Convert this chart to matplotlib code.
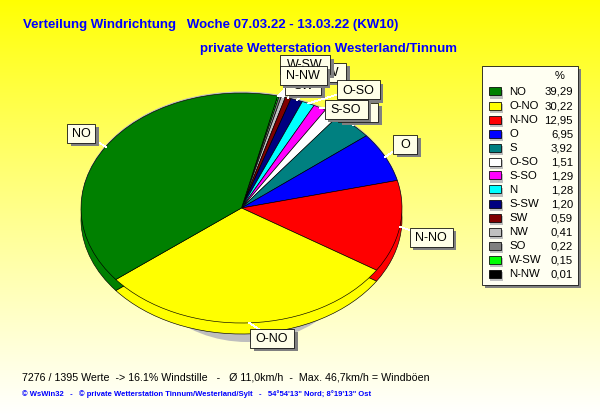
# Verteilung Windrichtung - pie with rim, label boxes and side table

import numpy as np
import matplotlib
matplotlib.use('Agg')
import matplotlib.pyplot as plt
from matplotlib.patches import Rectangle, Ellipse

plt.rcParams['font.family'] = ['Liberation Sans', 'DejaVu Sans']

directions = ['NO', 'O-NO', 'N-NO', 'O', 'S', 'O-SO', 'S-SO', 'N', 'S-SW', 'SW', 'NW', 'SO', 'W-SW', 'N-NW']
percent = [39.29, 30.22, 12.95, 6.95, 3.92, 1.51, 1.29, 1.28, 1.20, 0.59, 0.41, 0.22, 0.15, 0.01]
percent_text = ['39,29', '30,22', '12,95', '6,95', '3,92', '1,51', '1,29', '1,28', '1,20', '0,59', '0,41', '0,22', '0,15', '0,01']
colors = ['#008000', '#FFFF00', '#FF0000', '#0000FF', '#008080', '#FFFFFF', '#FF00FF',
          '#00FFFF', '#000080', '#800000', '#C0C0C0', '#808080', '#00FF00', '#000000']

# label box centre x, centre y, width in pixels
label_boxes = {
    'NO': (81, 133, 28), 'O-NO': (272, 338, 44), 'N-NO': (431, 237, 43), 'O': (405, 144, 24),
    'S': (358, 112, 40), 'O-SO': (358, 90, 43), 'S-SO': (346, 109, 43), 'N': (352, 90, 24),
    'S-SW': (323, 72.5, 46), 'SW': (303, 85.5, 36), 'NW': (303, 78, 30), 'SO': (303, 76, 28),
    'W-SW': (305, 65, 50), 'N-NW': (303, 75.5, 47),
}
draw_order = ['N', 'NW', 'SO', 'SW', 'S-SW', 'NO', 'O-NO', 'N-NO', 'O', 'S', 'O-SO', 'S-SO', 'W-SW', 'N-NW']

W, H = 600, 415
CX, CY, RX, RY = 241.5, 208, 160.5, 115
RIM = 11 / RY

fig = plt.figure(figsize=(W / 100, H / 100), dpi=100)

# background gradient yellow -> pale
bg = fig.add_axes([0, 0, 1, 1], zorder=0)
grad = np.ones((H, 1, 3))
grad[:, 0, 2] = np.clip(np.linspace(0, 1.0, H) ** 0.9, 0, 1)
bg.imshow(grad, aspect='auto', extent=(0, W, H, 0))
bg.axis('off')

# pie, data units are pie radii, axes fills the figure
ax = fig.add_axes([0, 0, 1, 1], zorder=1)
ax.add_patch(Ellipse((5.5 / RX, -19 / RY), 2 * 122 / RX, 2, fc='#BEBEBE', ec='none'))
ax.add_patch(Ellipse((0, 1.5 / RY), 2, 2, fc='#BEBEBE', ec='none'))
wprops = dict(edgecolor='black', linewidth=0.45)
ax.pie(percent[::-1], colors=colors[::-1], startangle=77, counterclock=False,
       center=(0, -RIM), wedgeprops=wprops)
wedges, _ = ax.pie(percent[::-1], colors=colors[::-1], startangle=77, counterclock=False,
                   wedgeprops=wprops)
ax.set_aspect('auto')
ax.set_xlim(-CX / RX, (W - CX) / RX)
ax.set_ylim((CY - H) / RY, CY / RY)
ax.axis('off')

# overlay in pixel coordinates
px = fig.add_axes([0, 0, 1, 1], zorder=2)
px.set_xlim(0, W)
px.set_ylim(H, 0)
px.axis('off')


def shadow_box(x0, y0, w, h, offset, face, z=2):
    px.add_patch(Rectangle((x0 + offset, y0 + offset), w, h, fc='#808080', ec='none', zorder=z))
    px.add_patch(Rectangle((x0, y0), w, h, fc=face, ec='black', lw=0.55, zorder=z))


# connector lines and label boxes
for name, wedge in zip(directions[::-1], wedges):
    bx, by, bw = label_boxes[name]
    mid = np.deg2rad((wedge.theta1 + wedge.theta2) / 2)
    ex, ey = CX + RX * np.cos(mid), CY - RY * np.sin(mid)
    px.plot([ex, bx], [ey, by], color='white', lw=0.6, antialiased=False, zorder=1)

for i, name in enumerate(draw_order):
    bx, by, bw = label_boxes[name]
    shadow_box(bx - bw / 2, by - 9.5, bw, 19, 3.5, '#FFFFE8', z=2 + i)
    px.text(bx, by + 0.5, name, ha='center', va='center', fontsize=9, color='black', zorder=2 + i)

# titles
px.text(23, 25, 'Verteilung Windrichtung   Woche 07.03.22 - 13.03.22 (KW10)', color='#0000FF',
        fontsize=9.5, fontweight='bold', va='center')
px.text(200, 49, 'private Wetterstation Westerland/Tinnum', color='#0000FF',
        fontsize=9.5, fontweight='bold', va='center')

# table at the right
shadow_box(481.5, 66.5, 96, 218, 3, '#FFFFF2', z=2)
px.text(560, 76, '%', ha='center', va='center', fontsize=8, zorder=3)
for i, name in enumerate(directions):
    y = 92 + 14 * i
    px.add_patch(Rectangle((490, y - 2), 13, 9, fc='#BEBEBE', ec='none', zorder=3))
    px.add_patch(Rectangle((488.5, y - 4.5), 12.5, 8, fc=colors[i], ec='black', lw=0.55, zorder=3))
    px.text(509, y, name, va='center', fontsize=8.2, zorder=3)
    px.text(573, y, percent_text[i], ha='right', va='center', fontsize=8.2, zorder=3)

# footer
px.text(22, 377, '7276 / 1395 Werte  -> 16.1% Windstille   -   Ø 11,0km/h  -  Max. 46,7km/h = Windböen',
        fontsize=7.7, va='center', color='black')
px.text(22, 394, '© WsWin32   -   © private Wetterstation Tinnum/Westerland/Sylt   -   54°54\'13" Nord; 8°19\'13" Ost',
        fontsize=5.5, va='center', color='#0000FF', fontweight='bold')

fig.savefig('out.png', dpi=100)
